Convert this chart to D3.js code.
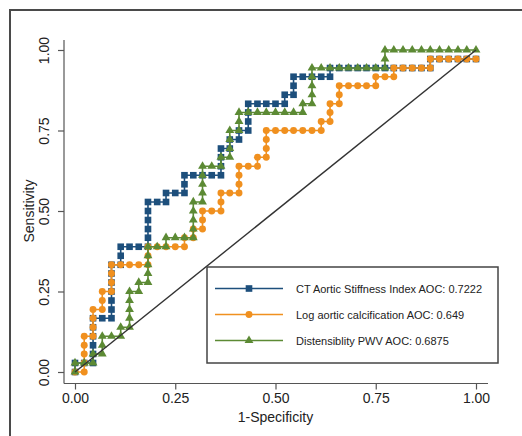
<!DOCTYPE html>
<html><head><meta charset="utf-8">
<script src="https://cdn.jsdelivr.net/npm/d3@7/dist/d3.min.js"></script>
<style>html,body{margin:0;padding:0;background:#fff;} svg{display:block;font-family:"Liberation Sans",Arial,sans-serif;}</style>
</head><body><svg id="chart" width="522" height="436"></svg>
<script>
// ---- data: [1-specificity, sensitivity] ----
const xTicks = [0, 0.25, 0.5, 0.75, 1];
const yTicks = [0, 0.25, 0.5, 0.75, 1];
const xTitle = "1-Specificity";
const yTitle = "Sensitivity";
const seriesNames = [
  "CT Aortic Stiffness Index AOC: 0.7222",
  "Log aortic calcification AOC: 0.649",
  "Distensiblity PWV AOC: 0.6875"
];
const ctStiffness = [[0,0],[0,.028],[.023,.028],[.045,.028],[.045,.056],[.045,.083],[.045,.111],[.045,.139],[.045,.167],[.068,.167],[.091,.167],[.091,.194],[.091,.222],[.091,.25],[.091,.278],[.091,.306],[.091,.333],[.114,.333],[.114,.361],[.114,.389],[.136,.389],[.159,.389],[.182,.389],[.182,.417],[.182,.444],[.182,.472],[.182,.5],[.182,.528],[.205,.528],[.227,.528],[.227,.556],[.25,.556],[.273,.556],[.273,.583],[.273,.611],[.295,.611],[.318,.611],[.341,.611],[.364,.611],[.364,.639],[.364,.667],[.364,.694],[.386,.694],[.386,.722],[.409,.722],[.409,.75],[.432,.75],[.432,.778],[.432,.806],[.432,.833],[.455,.833],[.477,.833],[.5,.833],[.523,.833],[.523,.861],[.545,.861],[.545,.889],[.545,.917],[.568,.917],[.591,.917],[.614,.917],[.636,.917],[.636,.944],[.659,.944],[.682,.944],[.705,.944],[.727,.944],[.75,.944],[.773,.944],[.795,.944],[.818,.944],[.841,.944],[.864,.944],[.886,.944],[.886,.972],[.909,.972],[.932,.972],[.955,.972],[.977,.972],[1,.972]];
const logCalcification = [[0,0],[.023,0],[.023,.028],[.023,.056],[.023,.083],[.023,.111],[.045,.111],[.045,.139],[.045,.167],[.045,.194],[.068,.194],[.068,.222],[.068,.25],[.091,.25],[.091,.278],[.091,.306],[.091,.333],[.114,.333],[.136,.333],[.159,.333],[.182,.333],[.182,.361],[.182,.389],[.205,.389],[.227,.389],[.25,.389],[.273,.389],[.273,.417],[.295,.417],[.295,.444],[.318,.444],[.318,.472],[.318,.5],[.341,.5],[.364,.5],[.364,.528],[.364,.556],[.386,.556],[.409,.556],[.409,.583],[.409,.611],[.409,.639],[.432,.639],[.455,.639],[.455,.667],[.477,.667],[.477,.694],[.477,.722],[.477,.75],[.5,.75],[.523,.75],[.545,.75],[.568,.75],[.591,.75],[.614,.75],[.614,.778],[.636,.778],[.636,.806],[.636,.833],[.659,.833],[.659,.861],[.659,.889],[.682,.889],[.705,.889],[.727,.889],[.75,.889],[.75,.917],[.773,.917],[.795,.917],[.795,.944],[.818,.944],[.841,.944],[.864,.944],[.886,.944],[.886,.972],[.909,.972],[.932,.972],[.955,.972],[.977,.972],[1,.972]];
const distensibilityPwv = [[0,0],[0,.028],[.023,.028],[.045,.028],[.045,.056],[.068,.056],[.068,.083],[.068,.111],[.091,.111],[.114,.111],[.114,.139],[.136,.139],[.136,.167],[.136,.194],[.136,.222],[.136,.25],[.159,.25],[.159,.278],[.182,.278],[.182,.306],[.182,.333],[.182,.361],[.182,.389],[.205,.389],[.227,.389],[.227,.417],[.25,.417],[.273,.417],[.295,.417],[.295,.444],[.295,.472],[.295,.5],[.295,.528],[.318,.528],[.318,.556],[.318,.583],[.318,.611],[.318,.639],[.341,.639],[.364,.639],[.364,.667],[.386,.667],[.386,.694],[.386,.722],[.386,.75],[.409,.75],[.409,.778],[.409,.806],[.432,.806],[.455,.806],[.477,.806],[.5,.806],[.523,.806],[.545,.806],[.568,.806],[.568,.833],[.591,.833],[.591,.861],[.591,.889],[.591,.917],[.591,.944],[.614,.944],[.636,.944],[.659,.944],[.682,.944],[.705,.944],[.727,.944],[.75,.944],[.773,.944],[.773,.972],[.773,1],[.795,1],[.818,1],[.841,1],[.864,1],[.886,1],[.909,1],[.932,1],[.955,1],[.977,1],[1,1]];
const referenceLine = [[0,0],[1,1]];

// ---- drawing ----
const colors = ["#1d4f7c", "#f0901f", "#5c8a34"];
const symbols = [d3.symbolSquare, d3.symbolCircle, d3.symbolTriangle];
const symbolSizes = [44, 38, 34];
const allSeries = [ctStiffness, logCalcification, distensibilityPwv];

const svg = d3.select("#chart");
const x = d3.scaleLinear().domain([0, 1]).range([75, 476]);
const y = d3.scaleLinear().domain([0, 1]).range([372, 50]);
const axisLeftX = 64, axisBottomY = 383.5, axisTopY = 40, axisRightX = 488;

// outer frame
svg.append("rect").attr("x", 10).attr("y", 10).attr("width", 560).attr("height", 470)
  .attr("fill", "none").attr("stroke", "#4a4a4a").attr("stroke-width", 2);

// axes
const xAxis = d3.axisBottom(x).tickValues(xTicks).tickFormat(d3.format(".2f")).tickSize(6).tickPadding(4);
const gx = svg.append("g").attr("transform", `translate(0,${axisBottomY})`).call(xAxis);
gx.select(".domain").remove();
gx.selectAll(".tick line").attr("stroke", "#555").attr("stroke-width", 1.2);
gx.selectAll(".tick text").attr("font-size", 14).attr("fill", "#222")
  .attr("font-family", "Liberation Sans, Arial, sans-serif");
svg.append("line").attr("x1", axisLeftX).attr("x2", axisRightX).attr("y1", axisBottomY).attr("y2", axisBottomY)
  .attr("stroke", "#555").attr("stroke-width", 1.2);

const yAxis = d3.axisLeft(y).tickValues(yTicks).tickFormat(d3.format(".2f")).tickSize(6).tickPadding(0);
const gy = svg.append("g").attr("transform", `translate(${axisLeftX},0)`).call(yAxis);
gy.select(".domain").remove();
gy.selectAll(".tick line").attr("stroke", "#555").attr("stroke-width", 1.2);
gy.selectAll(".tick text").attr("font-size", 14).attr("fill", "#222")
  .attr("font-family", "Liberation Sans, Arial, sans-serif")
  .attr("x", null).attr("dy", null)
  .attr("text-anchor", "middle")
  .attr("transform", "translate(-15.5,0) rotate(-90)");
svg.append("line").attr("x1", axisLeftX).attr("x2", axisLeftX).attr("y1", axisTopY).attr("y2", axisBottomY)
  .attr("stroke", "#555").attr("stroke-width", 1.2);

// axis titles
svg.append("text").attr("x", x(0.5)).attr("y", 422).attr("text-anchor", "middle")
  .attr("font-size", 14).attr("fill", "#222").text(xTitle);
svg.append("text").attr("transform", `translate(33.5,${y(0.5)}) rotate(-90)`).attr("text-anchor", "middle")
  .attr("font-size", 14).attr("fill", "#222").text(yTitle);

// series
const line = d3.line().x(d => x(d[0])).y(d => y(d[1]));
allSeries.forEach((data, k) => {
  const g = svg.append("g");
  g.append("path").datum(data).attr("d", line).attr("fill", "none")
    .attr("stroke", colors[k]).attr("stroke-width", 1.6);
  g.selectAll("path.m").data(data).enter().append("path").attr("class", "m")
    .attr("d", d3.symbol(symbols[k], symbolSizes[k]))
    .attr("transform", d => `translate(${x(d[0])},${y(d[1])})`)
    .attr("fill", colors[k]);
});

// reference diagonal
svg.append("path").datum(referenceLine).attr("d", line).attr("fill", "none")
  .attr("stroke", "#333").attr("stroke-width", 1.4);

// legend
const lg = svg.append("g");
lg.append("rect").attr("x", 207).attr("y", 267).attr("width", 291).attr("height", 96)
  .attr("fill", "#fff").attr("stroke", "#444").attr("stroke-width", 1.5);
seriesNames.forEach((name, k) => {
  const ly = 288.5 + k * 26;
  lg.append("line").attr("x1", 215).attr("x2", 283).attr("y1", ly).attr("y2", ly)
    .attr("stroke", colors[k]).attr("stroke-width", 1.6);
  lg.append("path").attr("d", d3.symbol(symbols[k], symbolSizes[k]))
    .attr("transform", `translate(249,${ly})`).attr("fill", colors[k]);
  lg.append("text").attr("x", 296).attr("y", ly + 4).attr("font-size", 11).attr("fill", "#222").text(name);
});
</script></body></html>
